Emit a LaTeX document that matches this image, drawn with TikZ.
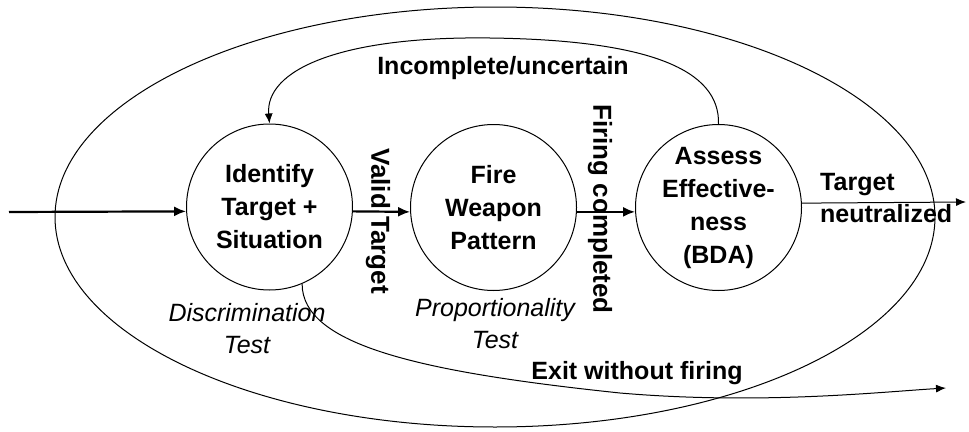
\documentclass[tikz,border=0pt]{standalone}
\usepackage{fontspec}
\setmainfont{Liberation Sans}
\usetikzlibrary{arrows.meta}
\begin{document}
\begin{tikzpicture}[x=1pt,y=-1pt,
  stage/.style={draw, circle, minimum size=166pt, inner sep=0pt, line width=1pt,
    align=center, font=\bfseries\fontsize{25}{33}\selectfont},
  lbl/.style={font=\bfseries\fontsize{25}{32}\selectfont, inner sep=0pt},
  vlbl/.style={font=\bfseries\fontsize{26}{32}\selectfont, inner sep=0pt, rotate=-90},
  note/.style={font=\itshape\fontsize{25}{32}\selectfont, align=center, inner sep=0pt},
  flow/.style={line width=2.2pt, -{Latex[length=12pt,width=10pt]}},
  loopline/.style={line width=1pt, -{Latex[length=10pt,width=8pt]}},
]
\useasboundingbox (0,0) rectangle (969,431);

% outer boundary of the engagement cycle
\draw[line width=1pt] (495,217) ellipse [x radius=440, y radius=210];

% the three stages
\node[stage] (id)   at (269.5,207) {Identify\\Target +\\Situation};
\node[stage] (fire) at (493.5,207.5) {Fire\\Weapon\\Pattern};
\node[stage] (bda)  at (718.5,207.5) {Assess\\Effective-\\ness\\(BDA)};

% free ends of the open connectors
\coordinate (start) at (9,212);
\coordinate (done)  at (966,202);
\coordinate (quit)  at (946,388);

% main flow
\draw[flow] (start) -- (id.183.5);
\draw[flow] (id.-3.5) -- (fire.183.5);
\draw[flow] (fire.-3.5) -- (bda.183.5);
\draw[loopline] (bda.3.5) -- (done);

% feedback loop and exit path
\draw[loopline] (bda.90) .. controls (720,70) and (650,40) .. (490,38)
  .. controls (340,36) and (265,70) .. (id.90);
\draw[loopline] (id.-67) .. controls (302,345) and (420,372) .. (620,393)
  .. controls (760,405) and (880,392) .. (quit);

% connector labels
\node[vlbl] (vt) at (378,221) {Valid Target};
\node[vlbl] (fc) at (600,209) {Firing completed};
\node[lbl, align=left, anchor=west] (tn) at (820,198) {Target\\neutralized};
\node[lbl] (iu) at (503,68) {Incomplete/uncertain};
\node[lbl] (ex) at (637,373) {Exit without firing};

% tests applied at each stage
\node[note] (dt) at (247,329) {Discrimination\\Test};
\node[note] (pt) at (495,324) {Proportionality\\Test};
\end{tikzpicture}
\end{document}
